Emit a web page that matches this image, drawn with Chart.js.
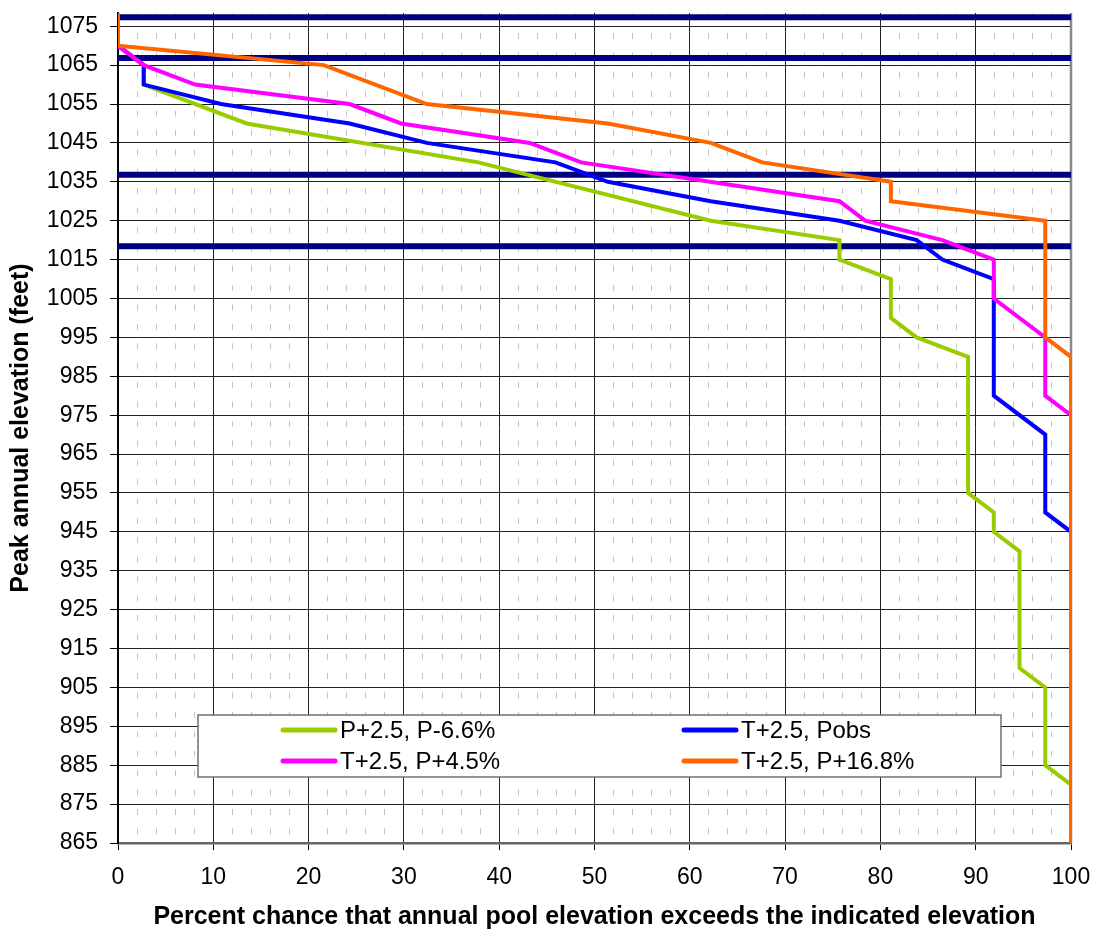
<!DOCTYPE html>
<html>
<head>
<meta charset="utf-8">
<title>Peak annual elevation</title>
<script src="https://cdn.jsdelivr.net/npm/chart.js@4.4.1/dist/chart.umd.min.js"></script>
<style>
  html, body { margin: 0; padding: 0; background: #fff; }
</style>
</head>
<body>
<canvas id="elevChart" width="1094" height="930"></canvas>
<script>
// 系列名称和颜色
const seriesNames = ['P+2.5, P-6.6%', 'T+2.5, Pobs', 'T+2.5, P+4.5%', 'T+2.5, P+16.8%'];
const seriesColors = ['#99CC00', '#0000FF', '#FF00FF', '#FF6600'];

// P+2.5, P-6.6%
const greenX = [0, 2.7, 2.7, 13.5, 37.8, 62.2, 75.7, 75.7, 81.1, 81.1, 83.8, 89.2, 89.2, 91.9, 91.9, 94.6, 94.6, 97.3, 97.3, 100, 100];
const greenY = [1070, 1065, 1060, 1050, 1040, 1025, 1020, 1015, 1010, 1000, 995, 990, 955, 950, 945, 940, 910, 905, 885, 880, 865];

// T+2.5, Pobs
const blueX = [0, 2.7, 2.7, 10.8, 24.3, 32.4, 45.9, 51.4, 62.2, 75.7, 83.8, 86.5, 91.9, 91.9, 97.3, 97.3, 100, 100];
const blueY = [1070, 1065, 1060, 1055, 1050, 1045, 1040, 1035, 1030, 1025, 1020, 1015, 1010, 980, 970, 950, 945, 865];

// T+2.5, P+4.5%
const pinkX = [0, 2.7, 8.1, 24.3, 29.7, 43.2, 48.6, 75.7, 78.4, 86.5, 91.9, 91.9, 97.3, 97.3, 100, 100];
const pinkY = [1070, 1065, 1060, 1055, 1050, 1045, 1040, 1030, 1025, 1020, 1015, 1005, 995, 980, 975, 865];

// T+2.5, P+16.8%
const orangeX = [0, 0, 21.6, 32.4, 51.4, 62.2, 67.6, 81.1, 81.1, 97.3, 97.3, 100, 100];
const orangeY = [1080, 1070, 1065, 1055, 1050, 1045, 1040, 1035, 1030, 1025, 995, 990, 865];

// 水平参考水位线
const refLevels = [1077.3, 1066.8, 1036.8, 1018.4];

// 坐标轴刻度
const yTickValues = [865, 875, 885, 895, 905, 915, 925, 935, 945, 955, 965, 975, 985, 995, 1005, 1015, 1025, 1035, 1045, 1055, 1065, 1075];
const xMin = 0, xMax = 100, xMajorStep = 10, xMinorStep = 2;
const yMin = 865, yMax = 1078.4;

const fontFamily = '"Liberation Sans", Arial, sans-serif';

function toPoints(xs, ys) {
    return xs.map((x, i) => ({ x: x, y: ys[i] }));
}

// 组装数据集
const curveData = [toPoints(greenX, greenY), toPoints(blueX, blueY), toPoints(pinkX, pinkY), toPoints(orangeX, orangeY)];
const datasets = curveData.map((pts, i) => ({
    label: seriesNames[i],
    data: pts,
    borderColor: seriesColors[i],
    backgroundColor: seriesColors[i],
    borderWidth: 4,
    pointRadius: 0,
    tension: 0,
    fill: false,
    order: 4 - i
}));
refLevels.forEach(level => {
    datasets.push({
        label: '',
        data: [{ x: xMin, y: level }, { x: xMax, y: level }],
        borderColor: '#000080',
        borderWidth: 6,
        pointRadius: 0,
        fill: false,
        order: 10
    });
});

// 图例（画在绘图区内部，带边框）
const boxLegend = {
    id: 'boxLegend',
    afterDatasetsDraw(chart) {
        const { ctx, chartArea } = chart;
        const left = chartArea.left + 80;
        const top = chartArea.top + 702;
        const width = 803, height = 62;
        ctx.save();
        ctx.fillStyle = '#ffffff';
        ctx.fillRect(left, top, width, height);
        ctx.strokeStyle = '#707070';
        ctx.lineWidth = 1.5;
        ctx.strokeRect(left, top, width, height);

        const cols = [left + 85, left + 486];
        const rows = [top + 15, top + 46];
        ctx.font = '24px ' + fontFamily;
        ctx.textBaseline = 'middle';
        ctx.textAlign = 'left';
        for (let i = 0; i < seriesNames.length; i++) {
            const cx = cols[i % 2];
            const cy = rows[Math.floor(i / 2)];
            ctx.strokeStyle = seriesColors[i];
            ctx.lineWidth = 5;
            ctx.lineCap = 'round';
            ctx.beginPath();
            ctx.moveTo(cx, cy);
            ctx.lineTo(cx + 52, cy);
            ctx.stroke();
            ctx.fillStyle = '#000';
            ctx.fillText(seriesNames[i], cx + 57, cy + 1);
        }
        ctx.restore();
    }
};

// 绘图区右侧灰色边框
const rightFrame = {
    id: 'rightFrame',
    beforeDatasetsDraw(chart) {
        const { ctx, chartArea } = chart;
        ctx.save();
        ctx.strokeStyle = '#888';
        ctx.lineWidth = 2.5;
        ctx.beginPath();
        ctx.moveTo(chartArea.right, chartArea.top);
        ctx.lineTo(chartArea.right, chartArea.bottom);
        ctx.stroke();
        ctx.restore();
    }
};

function isMajor(value) {
    return Math.abs(value % xMajorStep) < 1e-6;
}

const elevChart = new Chart(document.getElementById('elevChart'), {
    type: 'line',
    data: { datasets: datasets },
    plugins: [rightFrame, boxLegend],
    options: {
        responsive: false,
        animation: false,
        layout: { padding: { left: 0, right: 23, top: 13, bottom: 0 } },
        plugins: {
            legend: { display: false },
            tooltip: { enabled: false }
        },
        scales: {
            x: {
                type: 'linear',
                min: xMin,
                max: xMax,
                ticks: {
                    stepSize: xMinorStep,
                    autoSkip: false,
                    maxRotation: 0,
                    padding: 14,
                    color: '#000',
                    font: { family: fontFamily, size: 23 },
                    callback: function(value) {
                        return isMajor(value) ? value : '';
                    }
                },
                grid: {
                    color: function(context) {
                        if (!context.tick) return '#000';
                        return isMajor(context.tick.value) ? '#222' : '#c4c4c4';
                    },
                    lineWidth: 1,
                    tickLength: 7,
                    tickColor: function(context) {
                        if (!context.tick) return '#000';
                        return isMajor(context.tick.value) ? '#000' : 'rgba(0,0,0,0)';
                    }
                },
                border: {
                    color: '#666',
                    width: 2.5,
                    dash: function(context) {
                        if (!context.tick || isMajor(context.tick.value)) return [];
                        return [6, 13.4];
                    },
                    dashOffset: -0.5
                },
                title: {
                    display: true,
                    text: 'Percent chance that annual pool elevation exceeds the indicated elevation',
                    color: '#000',
                    font: { family: fontFamily, size: 25, weight: 'bold', lineHeight: 1 },
                    padding: { top: 0, bottom: 0 }
                },
                afterFit: function(scale) {
                    scale.height = 87;
                    scale.paddingLeft = 0;
                    scale.paddingRight = 0;
                }
            },
            y: {
                type: 'linear',
                min: yMin,
                max: yMax,
                afterBuildTicks: function(scale) {
                    scale.ticks = yTickValues.map(v => ({ value: v }));
                },
                ticks: {
                    padding: 12,
                    color: '#000',
                    font: { family: fontFamily, size: 23 },
                    callback: function(value) {
                        return value;
                    }
                },
                grid: {
                    color: '#222',
                    lineWidth: 1,
                    tickLength: 8,
                    tickColor: '#000'
                },
                border: {
                    color: '#000',
                    width: 2
                },
                title: {
                    display: true,
                    text: 'Peak annual elevation (feet)',
                    color: '#000',
                    font: { family: fontFamily, size: 25, weight: 'bold', lineHeight: 1 },
                    padding: { top: 9, bottom: 0 }
                },
                afterFit: function(scale) {
                    scale.width = 118;
                    scale.paddingTop = 0;
                    scale.paddingBottom = 0;
                }
            }
        }
    }
});
</script>
</body>
</html>
